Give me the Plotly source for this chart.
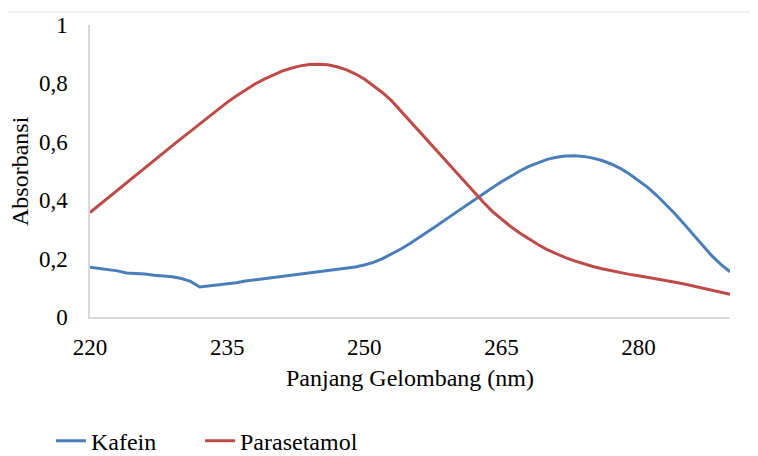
import plotly.graph_objects as go

wavelength = list(range(220, 291))

kafein = [
    0.170, 0.166, 0.163, 0.158, 0.151, 0.150, 0.147, 0.143, 0.140, 0.138,
    0.132, 0.122, 0.103, 0.106, 0.109, 0.112, 0.117, 0.123, 0.127, 0.131,
    0.135, 0.139, 0.143, 0.147, 0.153, 0.157, 0.161, 0.165, 0.168, 0.171,
    0.178, 0.187, 0.200, 0.216, 0.233, 0.252, 0.272, 0.293, 0.314, 0.336,
    0.358, 0.380, 0.401, 0.422, 0.443, 0.463, 0.483, 0.500, 0.516, 0.529,
    0.540, 0.547, 0.551, 0.552, 0.550, 0.544, 0.536, 0.524, 0.509, 0.490,
    0.468, 0.444, 0.416, 0.386, 0.353, 0.318, 0.282, 0.246, 0.210, 0.180,
    0.155,
]

parasetamol = [
    0.358, 0.383, 0.409, 0.434, 0.460, 0.485, 0.511, 0.536, 0.561, 0.587,
    0.612, 0.637, 0.663, 0.688, 0.712, 0.735, 0.757, 0.778, 0.797, 0.814,
    0.829, 0.842, 0.852, 0.860, 0.865, 0.866, 0.864, 0.857, 0.847, 0.833,
    0.815, 0.793, 0.768, 0.740, 0.705, 0.672, 0.638, 0.603, 0.568, 0.533,
    0.498, 0.463, 0.428, 0.394, 0.362, 0.335, 0.310, 0.288, 0.267, 0.248,
    0.231, 0.216, 0.203, 0.192, 0.182, 0.173, 0.165, 0.158, 0.152, 0.146,
    0.141, 0.136, 0.130, 0.125, 0.119, 0.113, 0.106, 0.099, 0.092, 0.085,
    0.078,
]

x_ticks = [220, 235, 250, 265, 280]
y_ticks = [0, 0.2, 0.4, 0.6, 0.8, 1]
x_title = "Panjang Gelombang (nm)"
y_title = "Absorbansi"

FONT = "serif"
AXIS_COLOR = "#d9d9d9"

fig = go.Figure()
fig.add_trace(go.Scatter(x=wavelength, y=kafein, mode="lines", name="Kafein",
                         line=dict(color="#4a7ebb", width=3), legend="legend"))
fig.add_trace(go.Scatter(x=wavelength, y=parasetamol, mode="lines", name="Parasetamol",
                         line=dict(color="#be4b48", width=3), legend="legend2"))

leg_common = dict(orientation="h", y=-0.425, xanchor="left", yanchor="middle",
                  font=dict(family=FONT, size=24), itemwidth=30,
                  bgcolor="rgba(0,0,0,0)")

fig.update_layout(
    width=750, height=448,
    margin=dict(l=82, r=28, t=17, b=139, autoexpand=False),
    paper_bgcolor="white", plot_bgcolor="white",
    separators=",.",
    font=dict(family=FONT, size=23, color="#000000"),
    showlegend=True,
    legend=dict(x=-0.061, **leg_common),
    legend2=dict(x=0.1719, **leg_common),
    xaxis=dict(range=[220, 290], tickvals=x_ticks, showgrid=False, zeroline=False,
               showline=True, linecolor=AXIS_COLOR, linewidth=1.5, ticks="",
               ticklabelstandoff=9, automargin=False,
               tickfont=dict(family=FONT, size=23)),
    yaxis=dict(range=[0, 1], tickvals=y_ticks, showgrid=False, zeroline=False,
               showline=True, linecolor=AXIS_COLOR, linewidth=1.5, ticks="",
               ticklabelstandoff=16, automargin=False,
               tickfont=dict(family=FONT, size=23)),
)

fig.add_annotation(text=x_title, xref="paper", yref="paper", x=0.5, y=-(370 - 309) / 292,
                   xanchor="center", yanchor="middle", showarrow=False,
                   font=dict(family=FONT, size=24, color="#000000"))
fig.add_annotation(text=y_title, xref="paper", yref="paper", x=-(70 / 640), y=0.5,
                   xanchor="center", yanchor="middle", textangle=-90, showarrow=False,
                   font=dict(family=FONT, size=24, color="#000000"))

fig.add_shape(type="line", xref="paper", yref="paper",
              x0=-90 / 640, x1=668 / 640, y0=1 + 13 / 292, y1=1 + 13 / 292,
              line=dict(color="#e0e0e0", width=1))

fig.write_html("out.html")
